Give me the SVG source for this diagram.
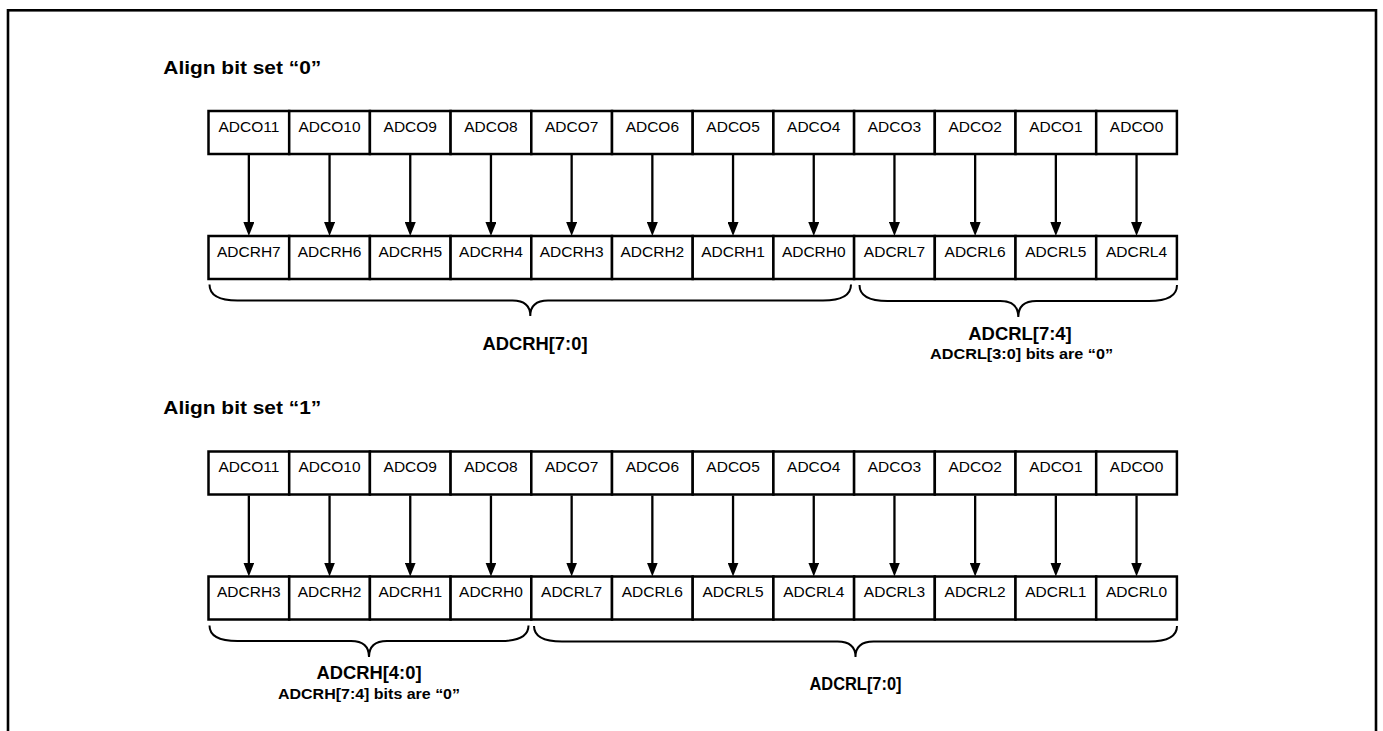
<svg xmlns="http://www.w3.org/2000/svg" width="1383" height="731" viewBox="0 0 1383 731">
<style>
.frame{fill:none;stroke:#000;stroke-width:2.6}
.box{fill:#fff;stroke:#000;stroke-width:2.5}
.cell{font-family:"Liberation Sans",Arial,sans-serif;font-size:15.5px;text-anchor:middle;fill:#000}
.title{font-family:"Liberation Sans",Arial,sans-serif;font-size:19px;font-weight:bold;fill:#000}
.lab{font-family:"Liberation Sans",Arial,sans-serif;font-size:19px;font-weight:bold;text-anchor:middle;fill:#000}
.sub{font-family:"Liberation Sans",Arial,sans-serif;font-size:15px;font-weight:bold;text-anchor:middle;fill:#000}
.arr{stroke:#000;stroke-width:2.3;fill:none;marker-end:url(#ah)}
.brace{stroke:#000;stroke-width:2;fill:none}
</style>
<defs>
<marker id="ah" markerUnits="userSpaceOnUse" markerWidth="14" markerHeight="11" refX="2" refY="5.5" orient="auto">
<path d="M0,0 L14,5.5 L0,11 z" fill="#000"/>
</marker>
</defs>
<rect class="frame" x="8" y="10.3" width="1368" height="760"/>

<text class="title" x="163.3" y="73.5" textLength="158" lengthAdjust="spacingAndGlyphs">Align bit set “0”</text>
<text class="title" x="163.3" y="414.3" textLength="158" lengthAdjust="spacingAndGlyphs">Align bit set “1”</text>

<!-- Section 1: top register (ADCO) -->
<g id="s1-adco">
<rect class="box" x="208.5" y="111" width="80.7" height="43"/><text class="cell" x="248.85" y="131.5">ADCO11</text>
<rect class="box" x="289.2" y="111" width="80.7" height="43"/><text class="cell" x="329.55" y="131.5">ADCO10</text>
<rect class="box" x="369.9" y="111" width="80.7" height="43"/><text class="cell" x="410.25" y="131.5">ADCO9</text>
<rect class="box" x="450.6" y="111" width="80.7" height="43"/><text class="cell" x="490.95" y="131.5">ADCO8</text>
<rect class="box" x="531.3" y="111" width="80.7" height="43"/><text class="cell" x="571.65" y="131.5">ADCO7</text>
<rect class="box" x="612.0" y="111" width="80.7" height="43"/><text class="cell" x="652.35" y="131.5">ADCO6</text>
<rect class="box" x="692.7" y="111" width="80.7" height="43"/><text class="cell" x="733.05" y="131.5">ADCO5</text>
<rect class="box" x="773.4" y="111" width="80.7" height="43"/><text class="cell" x="813.75" y="131.5">ADCO4</text>
<rect class="box" x="854.1" y="111" width="80.7" height="43"/><text class="cell" x="894.45" y="131.5">ADCO3</text>
<rect class="box" x="934.8" y="111" width="80.7" height="43"/><text class="cell" x="975.15" y="131.5">ADCO2</text>
<rect class="box" x="1015.5" y="111" width="80.7" height="43"/><text class="cell" x="1055.85" y="131.5">ADCO1</text>
<rect class="box" x="1096.2" y="111" width="80.7" height="43"/><text class="cell" x="1136.55" y="131.5">ADCO0</text>
</g>

<g id="s1-adcr">
<rect class="box" x="208.5" y="236" width="80.7" height="43"/><text class="cell" x="248.85" y="256.5">ADCRH7</text>
<rect class="box" x="289.2" y="236" width="80.7" height="43"/><text class="cell" x="329.55" y="256.5">ADCRH6</text>
<rect class="box" x="369.9" y="236" width="80.7" height="43"/><text class="cell" x="410.25" y="256.5">ADCRH5</text>
<rect class="box" x="450.6" y="236" width="80.7" height="43"/><text class="cell" x="490.95" y="256.5">ADCRH4</text>
<rect class="box" x="531.3" y="236" width="80.7" height="43"/><text class="cell" x="571.65" y="256.5">ADCRH3</text>
<rect class="box" x="612.0" y="236" width="80.7" height="43"/><text class="cell" x="652.35" y="256.5">ADCRH2</text>
<rect class="box" x="692.7" y="236" width="80.7" height="43"/><text class="cell" x="733.05" y="256.5">ADCRH1</text>
<rect class="box" x="773.4" y="236" width="80.7" height="43"/><text class="cell" x="813.75" y="256.5">ADCRH0</text>
<rect class="box" x="854.1" y="236" width="80.7" height="43"/><text class="cell" x="894.45" y="256.5">ADCRL7</text>
<rect class="box" x="934.8" y="236" width="80.7" height="43"/><text class="cell" x="975.15" y="256.5">ADCRL6</text>
<rect class="box" x="1015.5" y="236" width="80.7" height="43"/><text class="cell" x="1055.85" y="256.5">ADCRL5</text>
<rect class="box" x="1096.2" y="236" width="80.7" height="43"/><text class="cell" x="1136.55" y="256.5">ADCRL4</text>
</g>

<g id="s1-labels">
<text class="lab" x="535" y="349.5" textLength="105" lengthAdjust="spacingAndGlyphs">ADCRH[7:0]</text>
<text class="lab" x="1020" y="339.5" textLength="103.5" lengthAdjust="spacingAndGlyphs">ADCRL[7:4]</text>
<text class="sub" x="1021.6" y="358.5" textLength="183" lengthAdjust="spacingAndGlyphs">ADCRL[3:0] bits are “0”</text>
</g>

<!-- Section 2 -->
<g id="s2-adco">
<rect class="box" x="208.5" y="451.5" width="80.7" height="43"/><text class="cell" x="248.85" y="472">ADCO11</text>
<rect class="box" x="289.2" y="451.5" width="80.7" height="43"/><text class="cell" x="329.55" y="472">ADCO10</text>
<rect class="box" x="369.9" y="451.5" width="80.7" height="43"/><text class="cell" x="410.25" y="472">ADCO9</text>
<rect class="box" x="450.6" y="451.5" width="80.7" height="43"/><text class="cell" x="490.95" y="472">ADCO8</text>
<rect class="box" x="531.3" y="451.5" width="80.7" height="43"/><text class="cell" x="571.65" y="472">ADCO7</text>
<rect class="box" x="612.0" y="451.5" width="80.7" height="43"/><text class="cell" x="652.35" y="472">ADCO6</text>
<rect class="box" x="692.7" y="451.5" width="80.7" height="43"/><text class="cell" x="733.05" y="472">ADCO5</text>
<rect class="box" x="773.4" y="451.5" width="80.7" height="43"/><text class="cell" x="813.75" y="472">ADCO4</text>
<rect class="box" x="854.1" y="451.5" width="80.7" height="43"/><text class="cell" x="894.45" y="472">ADCO3</text>
<rect class="box" x="934.8" y="451.5" width="80.7" height="43"/><text class="cell" x="975.15" y="472">ADCO2</text>
<rect class="box" x="1015.5" y="451.5" width="80.7" height="43"/><text class="cell" x="1055.85" y="472">ADCO1</text>
<rect class="box" x="1096.2" y="451.5" width="80.7" height="43"/><text class="cell" x="1136.55" y="472">ADCO0</text>
</g>

<g id="s2-adcr">
<rect class="box" x="208.5" y="576.5" width="80.7" height="43"/><text class="cell" x="248.85" y="597">ADCRH3</text>
<rect class="box" x="289.2" y="576.5" width="80.7" height="43"/><text class="cell" x="329.55" y="597">ADCRH2</text>
<rect class="box" x="369.9" y="576.5" width="80.7" height="43"/><text class="cell" x="410.25" y="597">ADCRH1</text>
<rect class="box" x="450.6" y="576.5" width="80.7" height="43"/><text class="cell" x="490.95" y="597">ADCRH0</text>
<rect class="box" x="531.3" y="576.5" width="80.7" height="43"/><text class="cell" x="571.65" y="597">ADCRL7</text>
<rect class="box" x="612.0" y="576.5" width="80.7" height="43"/><text class="cell" x="652.35" y="597">ADCRL6</text>
<rect class="box" x="692.7" y="576.5" width="80.7" height="43"/><text class="cell" x="733.05" y="597">ADCRL5</text>
<rect class="box" x="773.4" y="576.5" width="80.7" height="43"/><text class="cell" x="813.75" y="597">ADCRL4</text>
<rect class="box" x="854.1" y="576.5" width="80.7" height="43"/><text class="cell" x="894.45" y="597">ADCRL3</text>
<rect class="box" x="934.8" y="576.5" width="80.7" height="43"/><text class="cell" x="975.15" y="597">ADCRL2</text>
<rect class="box" x="1015.5" y="576.5" width="80.7" height="43"/><text class="cell" x="1055.85" y="597">ADCRL1</text>
<rect class="box" x="1096.2" y="576.5" width="80.7" height="43"/><text class="cell" x="1136.55" y="597">ADCRL0</text>
</g>

<g id="s2-labels">
<text class="lab" x="369" y="679" textLength="105" lengthAdjust="spacingAndGlyphs">ADCRH[4:0]</text>
<text class="sub" x="369" y="699" textLength="182" lengthAdjust="spacingAndGlyphs">ADCRH[7:4] bits are “0”</text>
<text class="lab" x="855.5" y="690" textLength="92" lengthAdjust="spacingAndGlyphs">ADCRL[7:0]</text>
</g>

<g id="connectors">
<line class="arr" x1="248.85" y1="155" x2="248.85" y2="224"/>
<line class="arr" x1="329.55" y1="155" x2="329.55" y2="224"/>
<line class="arr" x1="410.25" y1="155" x2="410.25" y2="224"/>
<line class="arr" x1="490.95" y1="155" x2="490.95" y2="224"/>
<line class="arr" x1="571.65" y1="155" x2="571.65" y2="224"/>
<line class="arr" x1="652.35" y1="155" x2="652.35" y2="224"/>
<line class="arr" x1="733.05" y1="155" x2="733.05" y2="224"/>
<line class="arr" x1="813.75" y1="155" x2="813.75" y2="224"/>
<line class="arr" x1="894.45" y1="155" x2="894.45" y2="224"/>
<line class="arr" x1="975.15" y1="155" x2="975.15" y2="224"/>
<line class="arr" x1="1055.85" y1="155" x2="1055.85" y2="224"/>
<line class="arr" x1="1136.55" y1="155" x2="1136.55" y2="224"/>

<line class="arr" x1="248.85" y1="495.5" x2="248.85" y2="564.5"/>
<line class="arr" x1="329.55" y1="495.5" x2="329.55" y2="564.5"/>
<line class="arr" x1="410.25" y1="495.5" x2="410.25" y2="564.5"/>
<line class="arr" x1="490.95" y1="495.5" x2="490.95" y2="564.5"/>
<line class="arr" x1="571.65" y1="495.5" x2="571.65" y2="564.5"/>
<line class="arr" x1="652.35" y1="495.5" x2="652.35" y2="564.5"/>
<line class="arr" x1="733.05" y1="495.5" x2="733.05" y2="564.5"/>
<line class="arr" x1="813.75" y1="495.5" x2="813.75" y2="564.5"/>
<line class="arr" x1="894.45" y1="495.5" x2="894.45" y2="564.5"/>
<line class="arr" x1="975.15" y1="495.5" x2="975.15" y2="564.5"/>
<line class="arr" x1="1055.85" y1="495.5" x2="1055.85" y2="564.5"/>
<line class="arr" x1="1136.55" y1="495.5" x2="1136.55" y2="564.5"/>

<path class="brace" d="M209.5,284.5 C209.5,294 218,300.5 237.5,300.5 L512.5,300.5 C523.5,300.5 530.3,305 530.3,316 C530.3,305 537,300.5 548,300.5 L823,300.5 C842.5,300.5 851,294 851,284.5"/>
<path class="brace" d="M859.5,285 C859.5,294.5 868,301 887.5,301 L1000.3,301 C1011.3,301 1018.3,306 1018.3,317 C1018.3,306 1025.3,301 1036.3,301 L1149,301 C1168.5,301 1177,294.5 1177,285"/>
<path class="brace" d="M209.5,625.5 C209.5,635 218,641 237.5,641 L351,641 C362,641 369,646 369,657 C369,646 376,641 387,641 L500.5,641 C520,641 528.5,635 528.5,625.5"/>
<path class="brace" d="M534,626 C534,635.5 542.5,641.5 562,641.5 L837.5,641.5 C848.5,641.5 855.5,646 855.5,657 C855.5,646 862.5,641.5 873.5,641.5 L1149,641.5 C1168.5,641.5 1177,635.5 1177,626"/>
</g>
</svg>
